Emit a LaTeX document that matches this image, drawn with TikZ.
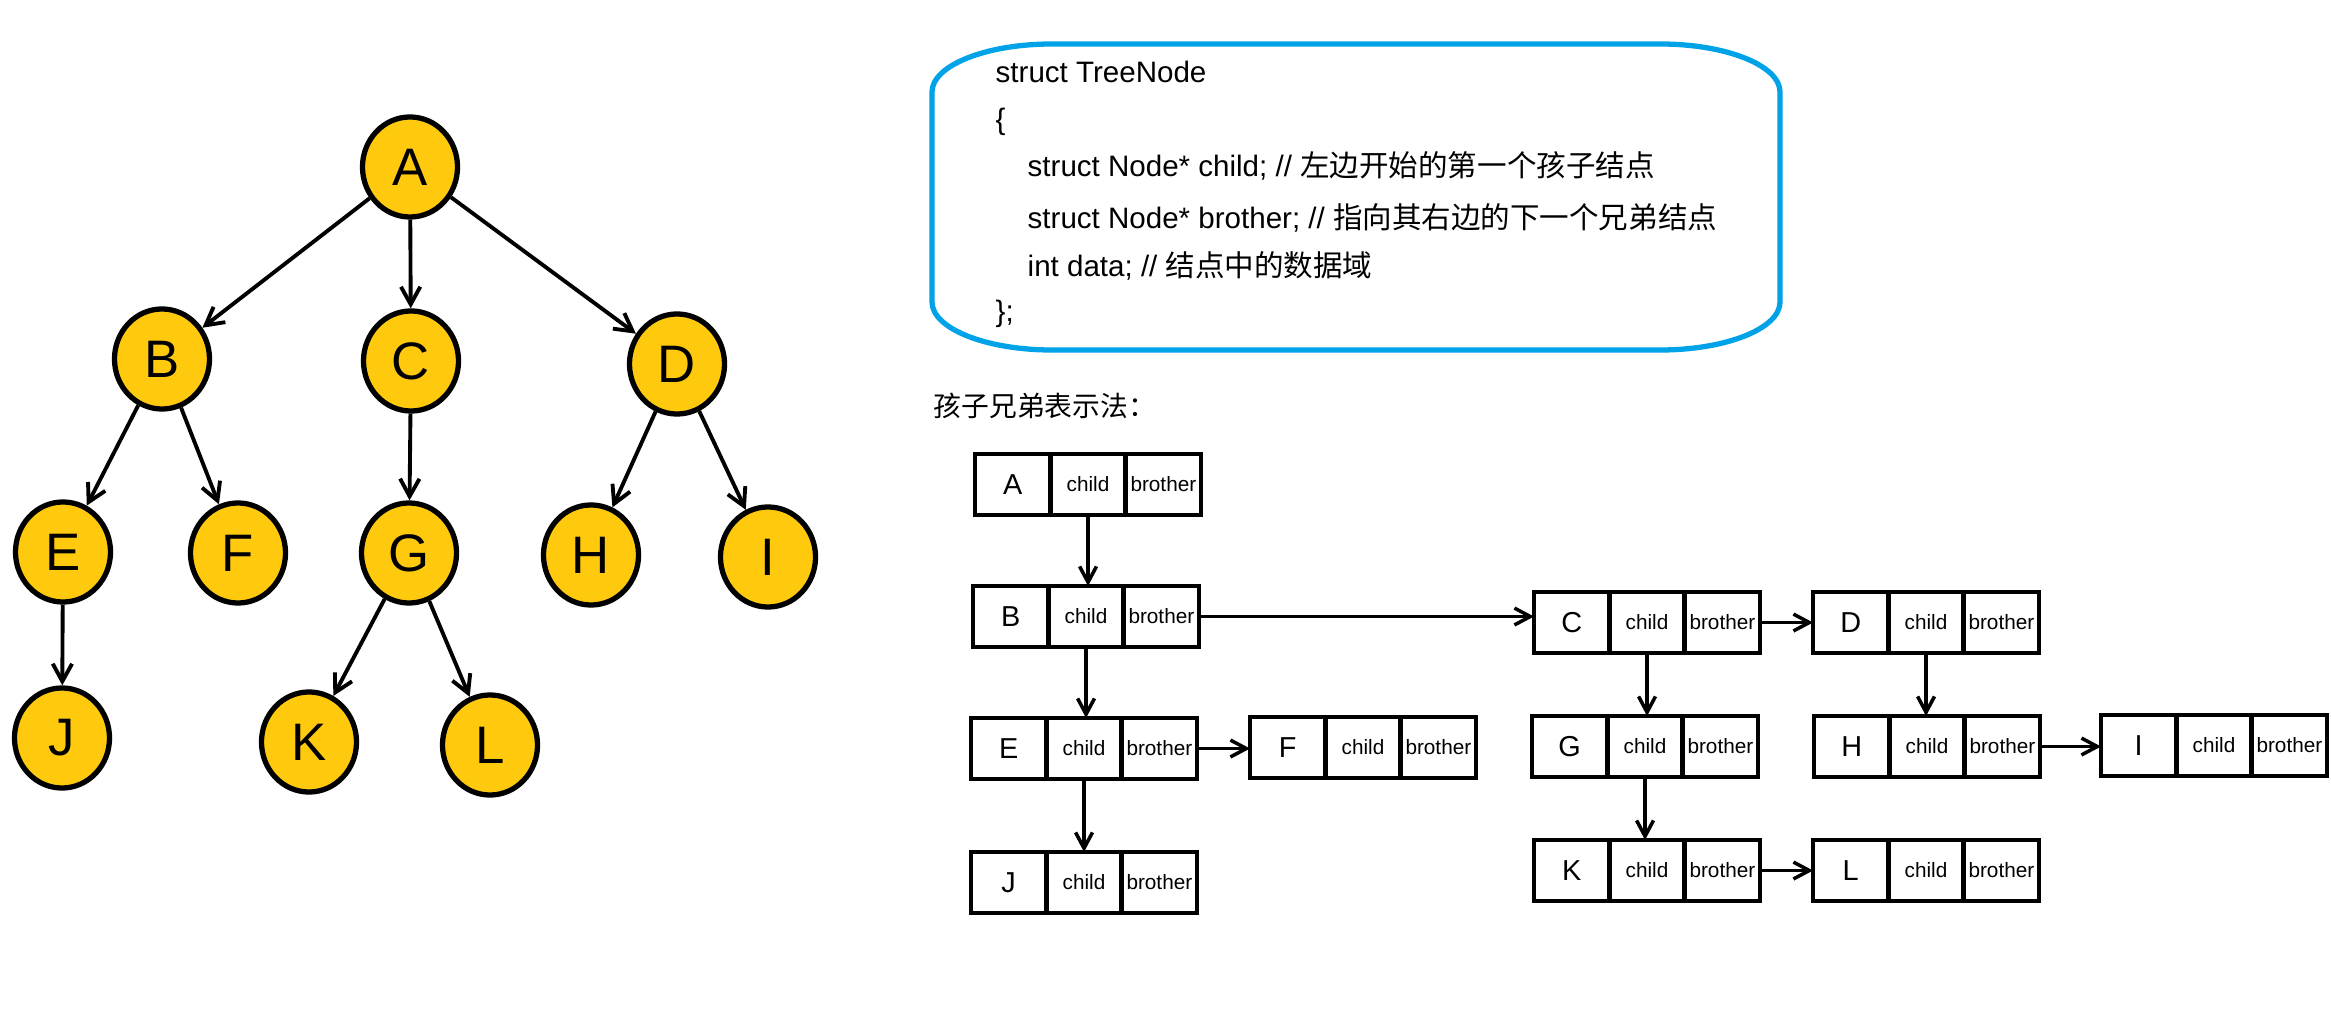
\documentclass[tikz,border=0pt]{standalone}
\usepackage{fontspec}
\setmainfont{Liberation Sans}
\newfontfamily\cjk{Noto Sans CJK SC}
\usetikzlibrary{arrows.meta,shapes.geometric}
\definecolor{nodeyellow}{RGB}{255,201,14}
\definecolor{boxblue}{RGB}{0,162,232}
\newcommand{\mkrec}[4]{%
  \node[cellL, anchor=north west] (#1-d) at (#2,#3) {#4};
  \node[cellS, anchor=north west] (#1-c) at (#1-d.north east) {child};
  \node[cellS, anchor=north west] (#1-b) at (#1-c.north east) {brother};
}
\begin{document}
\begin{tikzpicture}[x=0.01cm,y=-0.01cm,
  tnode/.style={ellipse, draw=black, line width=1.5pt, fill=nodeyellow,
    minimum width=0.95cm, minimum height=1.0cm, inner sep=0pt,
    font=\fontsize{15}{18}\selectfont},
  tarrow/.style={line width=1.1pt, -{Straight Barb[length=5pt,width=5.5pt,line width=1.1pt]}},
  rarrow/.style={line width=1pt, -{Straight Barb[length=4.5pt,width=4.8pt,line width=1pt]}},
  cellbase/.style={draw=black, line width=1.3pt, minimum width=0.753cm, minimum height=0.61cm,
    inner sep=0pt, outer sep=0pt},
  cellL/.style={cellbase, font=\fontsize{8.2}{10}\selectfont},
  cellS/.style={cellbase, font=\fontsize{5.9}{7}\selectfont},
  code/.style={inner sep=0pt, anchor=base west, font=\fontsize{8.4}{10}\selectfont}
]
\useasboundingbox (0,0) rectangle (2331,1016);

% ---- tree ----
\node[tnode] (A) at (410,167) {A};
\node[tnode] (B) at (162,359) {B};
\node[tnode] (C) at (411,361) {C};
\node[tnode] (D) at (677,364) {D};
\node[tnode] (E) at (63,552) {E};
\node[tnode] (F) at (238,553) {F};
\node[tnode] (G) at (409,553) {G};
\node[tnode] (H) at (591,555) {H};
\node[tnode] (I) at (768,557) {I};
\node[tnode] (J) at (62,738) {J};
\node[tnode] (K) at (309,742) {K};
\node[tnode] (L) at (490,745) {L};

\draw[tarrow] (A) -- (B);
\draw[tarrow] (A) -- (C);
\draw[tarrow] (A) -- (D);
\draw[tarrow] (B) -- (E);
\draw[tarrow] (B) -- (F);
\draw[tarrow] (C) -- (G);
\draw[tarrow] (D) -- (H);
\draw[tarrow] (D) -- (I);
\draw[tarrow] (E) -- (J);
\draw[tarrow] (G) -- (K);
\draw[tarrow] (G) -- (L);

% ---- code box ----
\draw[boxblue, line width=1.5pt]
  (1052,44) -- (1660,44)
  .. controls (1726.3,44) and (1780,65.5) .. (1780,92)
  -- (1780,302)
  .. controls (1780,328.5) and (1726.3,350) .. (1660,350)
  -- (1052,350)
  .. controls (985.7,350) and (932,328.5) .. (932,302)
  -- (932,92)
  .. controls (932,65.5) and (985.7,44) .. (1052,44) -- cycle;

\node[code] (l1) at (995,83) {struct TreeNode};
\node[code] (l2) at (995,130) {\{};
\node[code] (l3) at (1027,177) {struct Node* child; // {\cjk 左边开始的第一个孩子结点}};
\node[code] (l4) at (1027,229) {struct Node* brother; // {\cjk 指向其右边的下一个兄弟结点}};
\node[code] (l5) at (1027,277) {int data; // {\cjk 结点中的数据域}};
\node[code] (l6) at (995,322) {\};};

\node[anchor=west, inner sep=0pt, font=\fontsize{7.9}{9}\selectfont\cjk] (hd) at (933,406) {孩子兄弟表示法：};

% ---- records ----
\mkrec{rA}{975}{454}{A}
\mkrec{rB}{973}{586}{B}
\mkrec{rE}{971}{718}{E}
\mkrec{rJ}{971}{852}{J}
\mkrec{rF}{1250}{717}{F}
\mkrec{rC}{1534}{592}{C}
\mkrec{rD}{1813}{592}{D}
\mkrec{rG}{1532}{716}{G}
\mkrec{rH}{1814}{716}{H}
\mkrec{rI}{2101}{715}{I}
\mkrec{rK}{1534}{840}{K}
\mkrec{rL}{1813}{840}{L}

\draw[rarrow] (rA-c.south) -- (rA-c.south |- rB-c.north);
\draw[rarrow] (rB-b.east) -- (rB-b.east -| rC-d.west);
\draw[rarrow] (rB-c.south) -- (rB-c.south |- rE-c.north);
\draw[rarrow] (rE-b.east) -- (rE-b.east -| rF-d.west);
\draw[rarrow] (rE-c.south) -- (rE-c.south |- rJ-c.north);
\draw[rarrow] (rC-b.east) -- (rC-b.east -| rD-d.west);
\draw[rarrow] (rC-c.south) -- (rC-c.south |- rG-c.north);
\draw[rarrow] (rD-c.south) -- (rD-c.south |- rH-c.north);
\draw[rarrow] (rH-b.east) -- (rH-b.east -| rI-d.west);
\draw[rarrow] (rG-c.south) -- (rG-c.south |- rK-c.north);
\draw[rarrow] (rK-b.east) -- (rK-b.east -| rL-d.west);
\end{tikzpicture}
\end{document}
